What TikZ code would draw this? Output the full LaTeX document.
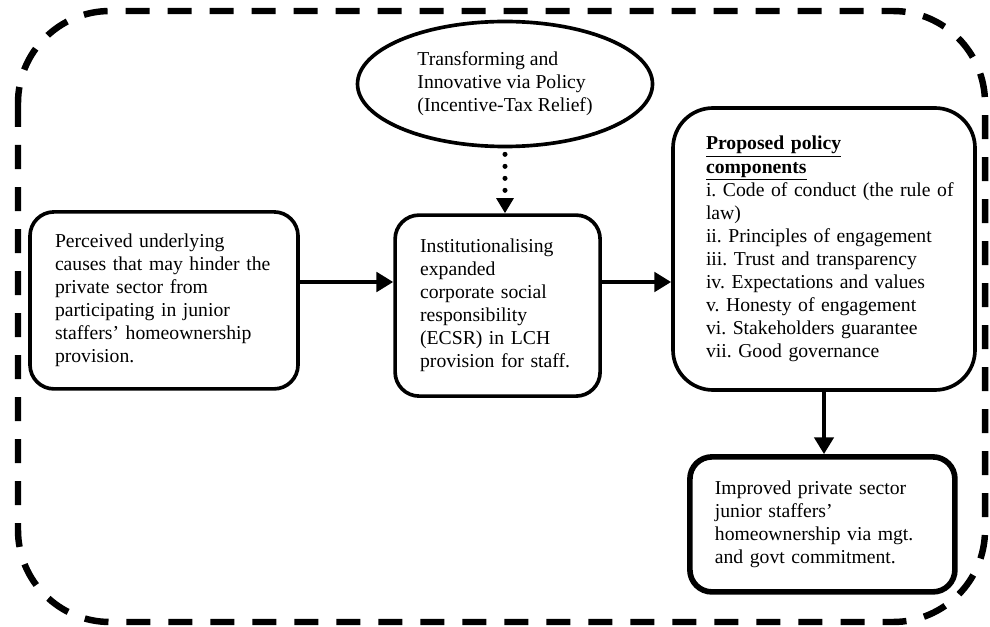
\documentclass[tikz,border=0pt]{standalone}
\usepackage{fontspec}
\setmainfont{Liberation Serif}
\usetikzlibrary{shapes.geometric,arrows.meta}
\tikzset{roundbox/.style={draw, line width=2.6pt, rounded corners=#1,
  align=left, inner xsep=0.625cm, inner ysep=0pt},
  roundbox/.default=0.6cm,
  ovalnode/.style={draw, ellipse, line width=2.6pt, align=left,
  inner sep=0pt, minimum width=7.375cm, minimum height=3.125cm},
  flowarrow/.style={line width=3.4pt, -{Triangle[length=0.42cm,width=0.48cm]}},
  dotarrow/.style={line width=3.6pt, line cap=round,
  dash pattern=on 0pt off 0.3cm, -{Triangle[length=0.38cm,width=0.42cm]}},
  outerline/.style={line width=4.6pt, dash pattern=on 0.6cm off 0.45cm,
  rounded corners=2.3cm}}

\begin{document}
\begin{tikzpicture}[font=\fontsize{14}{16.4}\selectfont\frenchspacing]
  \useasboundingbox (0,0) rectangle (24.75,-15.65);
  \draw[outerline] (0.45,-0.275) rectangle (24.625,-15.55);
  % boxes
  \node[roundbox, text width=5.45cm, minimum height=4.425cm] (cause) at (4.1,-7.51)
    {Perceived underlying\\causes that may hinder the\\private sector from\\participating in junior\\staffers' homeownership\\provision.};
  \node[roundbox, text width=3.875cm, minimum height=4.525cm] (csr) at (12.44,-7.64)
    {Institutionalising\\expanded\\corporate social\\responsibility\\(ECSR) in LCH\\provision for staff.};
  \node[ovalnode] (oval) at (12.625,-2.1)
    {Transforming and\\Innovative via Policy\\(Incentive-Tax Relief)};
  \node[roundbox=1cm, inner xsep=0.825cm, text width=5.9cm, minimum height=7.05cm] (policy) at (20.6,-6.225)
    {\textbf{\underline{Proposed policy}}\\\textbf{\underline{components}}\\
     \mbox{i. Code of conduct (the rule of}\\law)\\ii. Principles of engagement\\
     iii. Trust and transparency\\iv. Expectations and values\\
     v. Honesty of engagement\\vi. Stakeholders guarantee\\vii. Good governance};
  \node[roundbox=0.55cm, line width=4pt, text width=5.375cm, minimum height=3.375cm] (outcome) at (20.56,-13.11)
    {Improved private sector\\junior staffers'\\homeownership via mgt.\\and govt commitment.};
  % connectors
  \coordinate (row) at (0,-7.05);
  \draw[flowarrow] (cause.east |- row) -- (csr.west |- row);
  \draw[flowarrow] (csr.east |- row) -- (policy.west |- row);
  \draw[dotarrow, shorten <=0.15cm] (oval.south) -- (csr.north -| oval.south);
  \draw[flowarrow, line width=2.8pt] (policy.south) -- (outcome.north -| policy.south);
\end{tikzpicture}
\end{document}
